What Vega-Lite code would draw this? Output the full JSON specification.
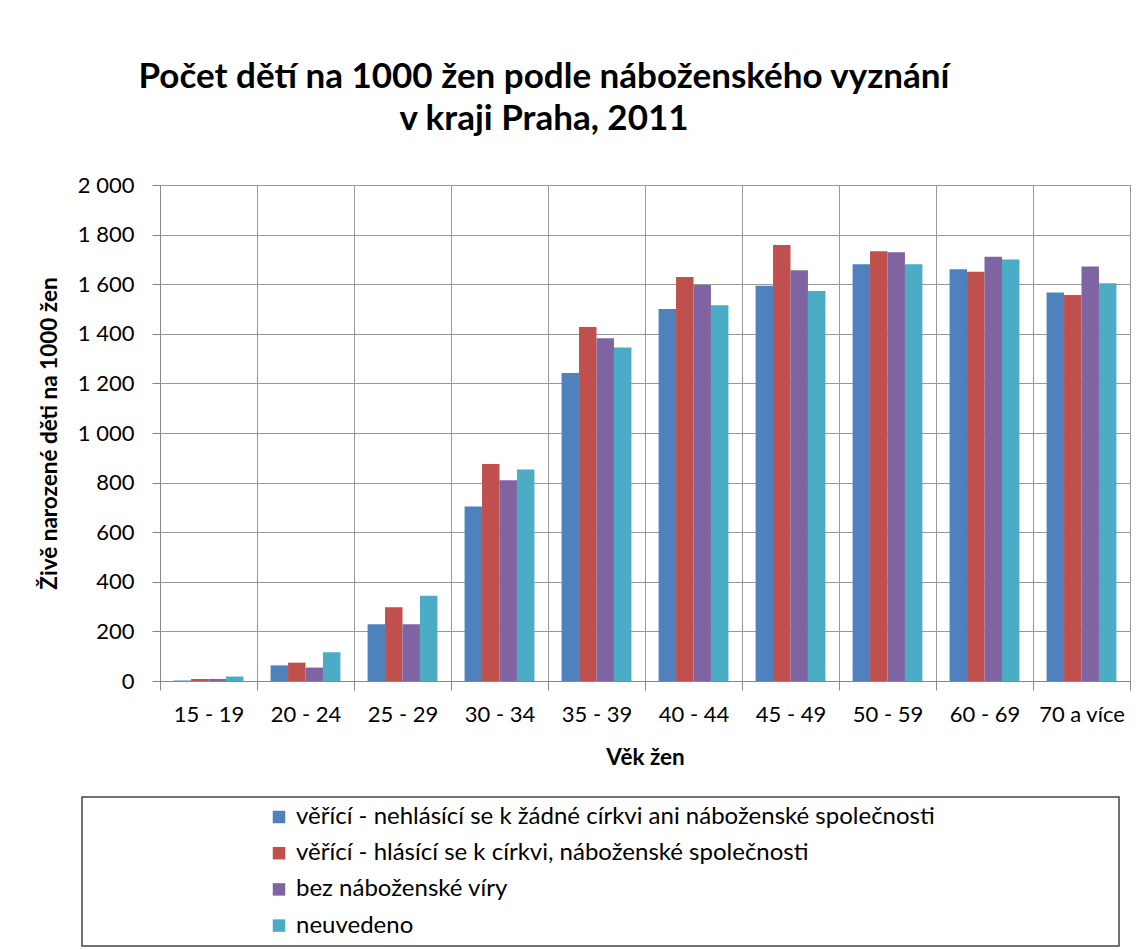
{
  "$schema": "https://vega.github.io/schema/vega-lite/v6.json",
  "autosize": {"type": "none"},
  "padding": {"left": 160, "top": 185, "right": 14, "bottom": 269},
  "width": 970,
  "height": 496,
  "background": "white",
  "title": {
    "text": ["Počet dětí na 1000 žen podle náboženského vyznání", "v kraji Praha, 2011"],
    "font": "Lato",
    "fontSize": 35,
    "fontWeight": "bold",
    "color": "#000",
    "anchor": "middle",
    "dx": -101,
    "offset": 37,
    "lineHeight": 42
  },
  "data": {
    "values": [
      {"v": "15 - 19", "s": "A", "n": 2},
      {"v": "15 - 19", "s": "B", "n": 8},
      {"v": "15 - 19", "s": "C", "n": 8},
      {"v": "15 - 19", "s": "D", "n": 18},
      {"v": "20 - 24", "s": "A", "n": 63},
      {"v": "20 - 24", "s": "B", "n": 74},
      {"v": "20 - 24", "s": "C", "n": 54},
      {"v": "20 - 24", "s": "D", "n": 116},
      {"v": "25 - 29", "s": "A", "n": 229},
      {"v": "25 - 29", "s": "B", "n": 297},
      {"v": "25 - 29", "s": "C", "n": 229},
      {"v": "25 - 29", "s": "D", "n": 344},
      {"v": "30 - 34", "s": "A", "n": 704},
      {"v": "30 - 34", "s": "B", "n": 875},
      {"v": "30 - 34", "s": "C", "n": 809},
      {"v": "30 - 34", "s": "D", "n": 853},
      {"v": "35 - 39", "s": "A", "n": 1242},
      {"v": "35 - 39", "s": "B", "n": 1427},
      {"v": "35 - 39", "s": "C", "n": 1382},
      {"v": "35 - 39", "s": "D", "n": 1345},
      {"v": "40 - 44", "s": "A", "n": 1500},
      {"v": "40 - 44", "s": "B", "n": 1629},
      {"v": "40 - 44", "s": "C", "n": 1597},
      {"v": "40 - 44", "s": "D", "n": 1515},
      {"v": "45 - 49", "s": "A", "n": 1594},
      {"v": "45 - 49", "s": "B", "n": 1758},
      {"v": "45 - 49", "s": "C", "n": 1656},
      {"v": "45 - 49", "s": "D", "n": 1573},
      {"v": "50 - 59", "s": "A", "n": 1680},
      {"v": "50 - 59", "s": "B", "n": 1733},
      {"v": "50 - 59", "s": "C", "n": 1729},
      {"v": "50 - 59", "s": "D", "n": 1680},
      {"v": "60 - 69", "s": "A", "n": 1660},
      {"v": "60 - 69", "s": "B", "n": 1650},
      {"v": "60 - 69", "s": "C", "n": 1711},
      {"v": "60 - 69", "s": "D", "n": 1700},
      {"v": "70 a více", "s": "A", "n": 1567},
      {"v": "70 a více", "s": "B", "n": 1556},
      {"v": "70 a více", "s": "C", "n": 1671},
      {"v": "70 a více", "s": "D", "n": 1604}
    ]
  },
  "mark": {"type": "bar"},
  "encoding": {
    "x": {
      "field": "v",
      "type": "nominal",
      "sort": null,
      "scale": {"paddingInner": 0, "paddingOuter": 0},
      "axis": {
        "title": "Věk žen",
        "labelAngle": 0,
        "tickBand": "extent",
        "grid": true,
        "tickSize": 9,
        "labelPadding": 14,
        "titlePadding": 21
      }
    },
    "xOffset": {
      "field": "s",
      "type": "nominal",
      "sort": ["A", "B", "C", "D"],
      "scale": {"paddingInner": 0, "paddingOuter": 0.778}
    },
    "y": {
      "field": "n",
      "type": "quantitative",
      "scale": {"domain": [0, 2000]},
      "axis": {
        "title": "Živě narozené děti na 1000 žen",
        "values": [0, 200, 400, 600, 800, 1000, 1200, 1400, 1600, 1800, 2000],
        "labelExpr": "replace(format(datum.value, ','), ',', ' ')",
        "tickSize": 8,
        "labelPadding": 18,
        "titlePadding": 16
      }
    },
    "color": {
      "field": "s",
      "type": "nominal",
      "scale": {
        "domain": ["A", "B", "C", "D"],
        "range": ["#4F81BD", "#C0504D", "#8064A2", "#4BACC6"]
      },
      "legend": {
        "title": " ",
        "titleOrient": "right",
        "titlePadding": 176,
        "orient": "none",
        "legendX": -78,
        "legendY": 612,
        "labelExpr": "datum.value == 'A' ? 'věřící - nehlásící se k žádné církvi ani náboženské společnosti' : datum.value == 'B' ? 'věřící - hlásící se k církvi, náboženské společnosti' : datum.value == 'C' ? 'bez náboženské víry' : 'neuvedeno'"
      }
    }
  },
  "config": {
    "view": {"stroke": "#999", "strokeWidth": 1},
    "axis": {
      "labelFont": "Lato",
      "labelFontSize": 22,
      "labelColor": "#000",
      "titleFont": "Lato",
      "titleFontSize": 22.5,
      "titleFontWeight": "bold",
      "titleColor": "#000",
      "domainColor": "#888",
      "tickColor": "#888",
      "gridColor": "#999",
      "gridWidth": 1
    },
    "legend": {
      "labelFont": "Lato",
      "labelFontSize": 24,
      "labelColor": "#000",
      "labelLimit": 900,
      "titleFontSize": 12,
      "symbolType": "square",
      "symbolSize": 156,
      "symbolStrokeWidth": 0,
      "symbolOffset": 177,
      "labelOffset": 5,
      "rowPadding": 12.2,
      "padding": 8,
      "strokeColor": "#444",
      "strokeWidth": 1.5,
      "fillColor": "white"
    }
  }
}
